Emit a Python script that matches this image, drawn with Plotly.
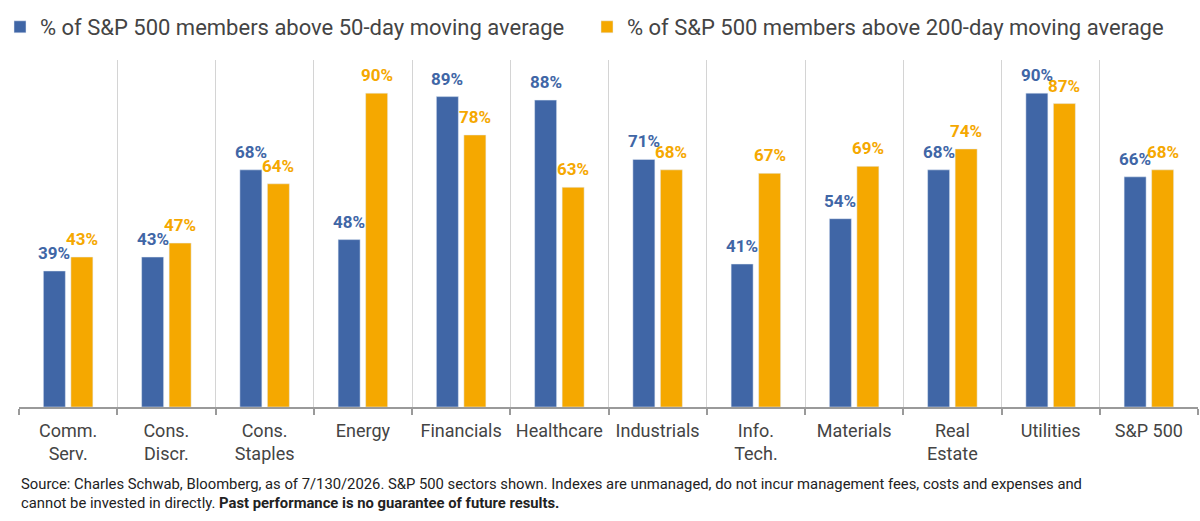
import plotly.graph_objects as go

categories = ["Comm.<br>Serv.", "Cons.<br>Discr.", "Cons.<br>Staples", "Energy", "Financials",
              "Healthcare", "Industrials", "Info.<br>Tech.", "Materials", "Real<br>Estate",
              "Utilities", "S&P 500"]
above_50 = [39, 43, 68, 48, 89, 88, 71, 41, 54, 68, 90, 66]
above_200 = [43, 47, 64, 90, 78, 63, 68, 67, 69, 74, 87, 68]
name_50 = "% of S&P 500 members above 50-day moving average"
name_200 = "% of S&P 500 members above 200-day moving average"

BLUE = "#4066A6"
ORANGE = "#F5A800"
FONT = "Roboto, Liberation Sans, sans-serif"

W, H = 1200, 521
ML, MR, MT, MB = 19, 2, 60, 114
BARGAP, GROUPGAP = 0.44, 0.2
cat_w = (W - ML - MR) / len(categories)
slot = cat_w * (1 - BARGAP) / 2
offset = slot / 2

fig = go.Figure()
fig.add_trace(go.Bar(x=categories, y=above_50, name=name_50, marker_color=BLUE))
fig.add_trace(go.Bar(x=categories, y=above_200, name=name_200, marker_color=ORANGE))

for vals, color, sign in ((above_50, BLUE, -1), (above_200, ORANGE, 1)):
    for c, v in zip(categories, vals):
        fig.add_annotation(x=c, y=v, xref="x", yref="y", text=f"<b>{v}%</b>",
                           showarrow=False, xanchor="center", yanchor="bottom",
                           xshift=sign * offset, yshift=6,
                           font=dict(color=color, size=17, family=FONT))

fig.update_layout(
    width=W, height=H,
    margin=dict(l=ML, r=MR, t=MT, b=MB),
    paper_bgcolor="white", plot_bgcolor="white",
    barmode="group", bargap=BARGAP, bargroupgap=GROUPGAP,
    font=dict(family=FONT, color="#444444"),
    legend=dict(orientation="h", xref="container", x=0.0, xanchor="left",
                yref="container", y=1 - 6 / H, yanchor="top",
                entrywidth=542, entrywidthmode="pixels",
                font=dict(size=22, color="#444444"),
                itemclick=False),
    showlegend=True,
)
fig.update_xaxes(
    tickson="boundaries", showgrid=True, gridcolor="#d4d4d4", gridwidth=1,
    showline=True, linecolor="#9a9a9a", linewidth=2,
    ticks="outside", ticklen=6, tickcolor="#9a9a9a", tickwidth=2,
    ticklabelstandoff=6,
    tickfont=dict(size=18, color="#444444"),
)
fig.update_yaxes(range=[0, 99.5], visible=False)

fig.add_annotation(
    xref="paper", yref="paper", x=0.0, y=-0.19, xanchor="left", yanchor="top",
    align="left", showarrow=False,
    font=dict(size=14.8, color="#222222", family=FONT),
    text=("Source: Charles Schwab, Bloomberg, as of 7/130/2026. S&P 500 sectors shown. "
          "Indexes are unmanaged, do not incur management fees, costs and expenses and<br>"
          "cannot be invested in directly. <b>Past performance is no guarantee of future results.</b>"),
)

fig.write_html("out.html")
